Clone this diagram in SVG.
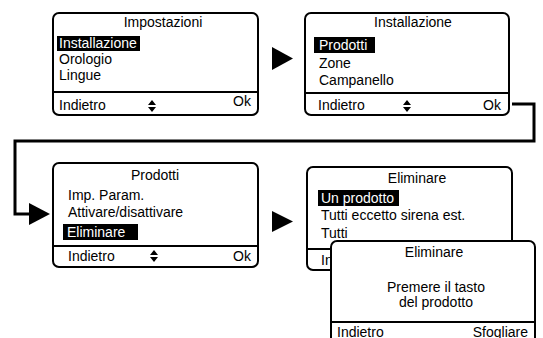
<svg xmlns="http://www.w3.org/2000/svg" width="543" height="338" viewBox="0 0 543 338">
<defs>
<style>
.box{fill:#fff;stroke:#000;stroke-width:2}
.sep{stroke:#000;stroke-width:2}
text{font-family:"Liberation Sans",Arial,sans-serif;font-size:14px;fill:#000}
.c{text-anchor:middle}
.r{text-anchor:end}
.hl{fill:#000}
.w{fill:#fff}
.conn{fill:none;stroke:#000;stroke-width:3}
</style>
<symbol id="spin" viewBox="0 0 8 12"><path d="M4 0 L8 5 L0 5 Z M0 7 L8 7 L4 12 Z" fill="#000"/></symbol>
</defs>
<rect width="543" height="338" fill="#fff"/>
<g id="connectors">
<polygon points="272,47 293,58.5 272,70" fill="#000"/>
<polyline class="conn" points="512,104 534,104 534,141 15,141 15,214 32,214"/>
<polygon points="29,203 50,214 29,225" fill="#000"/>
<polygon points="272,211 293,221.5 272,232" fill="#000"/>
</g>
<g id="screen-impostazioni">
<rect class="box" x="53" y="13" width="205" height="102" rx="6"/>
<line class="sep" x1="53" y1="92" x2="258" y2="92"/>
<text class="c" x="163" y="27">Impostazioni</text>
<rect class="hl" x="57" y="36" width="83" height="15"/>
<text class="w" x="59" y="48">Installazione</text>
<text x="59" y="64">Orologio</text>
<text x="59" y="80">Lingue</text>
<text x="59" y="110">Indietro</text>
<use href="#spin" x="148" y="100" width="8" height="12"/>
<text class="r" x="251" y="106">Ok</text>
</g>
<g id="screen-installazione">
<rect class="box" x="305" y="13" width="204" height="102" rx="6"/>
<line class="sep" x1="305" y1="93" x2="509" y2="93"/>
<text class="c" x="413" y="27">Installazione</text>
<rect class="hl" x="314" y="37" width="61" height="16"/>
<text class="w" x="319" y="50">Prodotti</text>
<text x="319" y="68">Zone</text>
<text x="319" y="85">Campanello</text>
<text x="318" y="110">Indietro</text>
<use href="#spin" x="403" y="100" width="8" height="12"/>
<text class="r" x="501" y="110">Ok</text>
</g>
<g id="screen-prodotti">
<rect class="box" x="53" y="163" width="205" height="104" rx="6"/>
<line class="sep" x1="53" y1="246" x2="258" y2="246"/>
<text class="c" x="155" y="180">Prodotti</text>
<text x="68" y="200">Imp. Param.</text>
<text x="68" y="217">Attivare/disattivare</text>
<rect class="hl" x="63" y="224" width="75" height="16"/>
<text class="w" x="67" y="237">Eliminare</text>
<text x="68" y="261">Indietro</text>
<use href="#spin" x="150" y="250" width="8" height="12"/>
<text class="r" x="251" y="261">Ok</text>
</g>
<g id="screen-eliminare">
<rect class="box" x="307" y="167" width="205" height="103" rx="6"/>
<line class="sep" x1="307" y1="249" x2="512" y2="249"/>
<text class="c" x="417" y="183">Eliminare</text>
<rect class="hl" x="318" y="190" width="81" height="16"/>
<text class="w" x="321" y="203">Un prodotto</text>
<text x="321" y="220">Tutti eccetto sirena est.</text>
<text x="321" y="238">Tutti</text>
<text x="321" y="265">Indietro</text>
</g>
<g id="popup-eliminare">
<rect class="box" x="331" y="241" width="204" height="110" rx="6"/>
<line class="sep" x1="331" y1="322" x2="535" y2="322"/>
<text class="c" x="434" y="257">Eliminare</text>
<text class="c" x="436" y="292">Premere il tasto</text>
<text class="c" x="436" y="307">del prodotto</text>
<text x="337" y="337">Indietro</text>
<text class="r" x="528" y="337">Sfogliare</text>
</g>
</svg>
